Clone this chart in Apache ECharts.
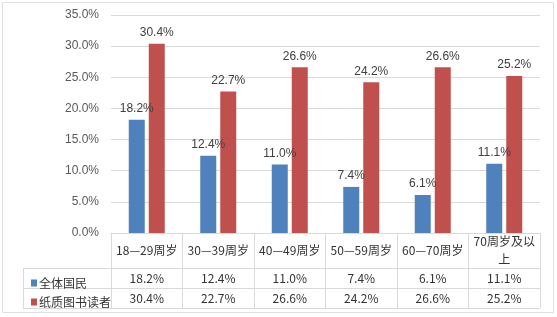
<!DOCTYPE html>
<html><head><meta charset="utf-8">
<script src="https://cdn.jsdelivr.net/npm/echarts@6/dist/echarts.min.js"></script>
<style>html,body{margin:0;padding:0;background:#fff}#c{width:557px;height:317px}</style>
</head><body><div id="c"></div>
<script>
const categories = ['18—29周岁','30—39周岁','40—49周岁','50—59周岁','60—70周岁','70周岁及以上'];
const seriesNames = ['全体国民','纸质图书读者'];
const allCitizens = [18.2, 12.4, 11.0, 7.4, 6.1, 11.1];
const paperReaders = [30.4, 22.7, 26.6, 24.2, 26.6, 25.2];
const yTicks = [0, 5, 10, 15, 20, 25, 30, 35];

const colors = ['#4f81bd', '#c0504d'];
const lineColor = '#d9d9d9';
const fmt = v => v.toFixed(1) + '%';
const chart = echarts.init(document.getElementById('c'));
const L = 111, R = 540, T0 = 233;
chart.setOption({
  animation: false,
  color: colors,
  grid: { left: L, right: 557 - R, top: 15, bottom: 317 - T0 },
  legend: {
    orient: 'vertical', left: 26, top: 272, itemGap: 7,
    icon: 'rect', itemWidth: 6, itemHeight: 7,
    textStyle: { fontFamily: 'Noto Sans CJK SC', fontSize: 12, color: '#333', padding: [0,0,0,-3] },
    data: seriesNames
  },
  xAxis: {
    type: 'category', data: categories,
    axisLine: { lineStyle: { color: lineColor } },
    axisTick: { show: true, length: 75, lineStyle: { color: lineColor } },
    axisLabel: {
      interval: 0, margin: 0,
      formatter: (v, i) => {
        const nm = v.indexOf('—') < 0 ? '{c2|' + v.slice(0, 6) + '}\n{c2|' + v.slice(6) + '}' : '{c|' + v + '}';
        return nm + '\n{v|' + fmt(allCitizens[i]) + '}\n{v|' + fmt(paperReaders[i]) + '}';
      },
      rich: {
        c: { lineHeight: 35, fontSize: 12, fontFamily: 'Noto Sans CJK SC', color: '#333' },
        c2: { lineHeight: 17.5, fontSize: 12, fontFamily: 'Noto Sans CJK SC', color: '#333' },
        v: { lineHeight: 20, fontSize: 12, fontFamily: 'Noto Sans CJK SC', color: '#333' }
      }
    }
  },
  yAxis: {
    type: 'value', min: yTicks[0], max: yTicks[yTicks.length - 1], interval: 5,
    axisLine: { show: false }, axisTick: { show: false },
    splitLine: { lineStyle: { color: lineColor } },
    axisLabel: { formatter: fmt, fontFamily: 'Liberation Sans', fontSize: 12, color: '#595959', margin: 12 }
  },
  series: [
    { name: seriesNames[0], type: 'bar', data: allCitizens, barWidth: 16, barGap: '25%',
      label: { show: true, position: 'top', distance: 5, formatter: p => fmt(p.value), fontFamily: 'Liberation Sans', fontSize: 12, color: '#404040' } },
    { name: seriesNames[1], type: 'bar', data: paperReaders, barWidth: 16,
      label: { show: true, position: 'top', distance: 5, formatter: p => fmt(p.value), fontFamily: 'Liberation Sans', fontSize: 12, color: '#404040' } }
  ],
  graphic: [
    { type: 'rect', shape: { x: 2.5, y: 2.5, width: 551, height: 310 }, style: { fill: 'none', stroke: '#e0e0e0', lineWidth: 1 }, silent: true },
    { type: 'line', shape: { x1: 23, y1: 268.5, x2: R, y2: 268.5 }, style: { stroke: lineColor, lineWidth: 1 } },
    { type: 'line', shape: { x1: 23, y1: 288.5, x2: R, y2: 288.5 }, style: { stroke: lineColor, lineWidth: 1 } },
    { type: 'line', shape: { x1: 23, y1: 308.5, x2: R, y2: 308.5 }, style: { stroke: lineColor, lineWidth: 1 } },
    { type: 'line', shape: { x1: 23.5, y1: 268, x2: 23.5, y2: 308 }, style: { stroke: lineColor, lineWidth: 1 } }
  ]
});
</script></body></html>
